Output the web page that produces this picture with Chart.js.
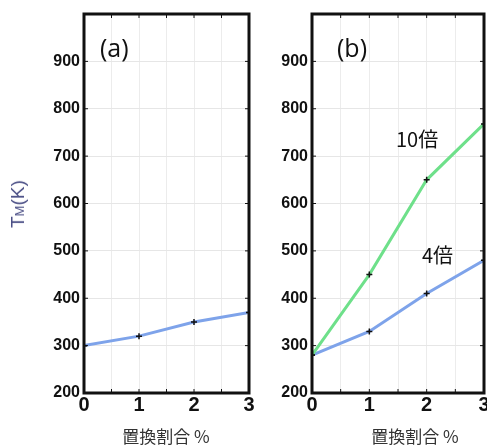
<!DOCTYPE html>
<html>
<head>
<meta charset="utf-8">
<script src="https://cdn.jsdelivr.net/npm/chart.js@4.4.1/dist/chart.umd.min.js"></script>
<style>
  html, body { margin: 0; padding: 0; background: #fff; overflow: hidden; width: 487px; height: 445px; }
  .box { position: absolute; top: 0; height: 445px; }
  .lbl { position: absolute; font-family: "Open Sans", "Liberation Sans", sans-serif; color: #111; white-space: nowrap; }
  .xt { position: absolute; top: 423px; font-family: "Noto Sans CJK JP", sans-serif; font-size: 17px; color: #333; transform: translateX(-50%); white-space: nowrap; }
  .yt { position: absolute; left: 18px; top: 204px; transform: translate(-50%, -50%) rotate(-90deg); font-family: "Liberation Sans", sans-serif; font-size: 19px; color: #4b4f86; white-space: nowrap; }
  .yt small { font-size: 13px; }
</style>
</head>
<body>
<div class="box" style="left:0;width:258px"><canvas id="chartA" width="258" height="445"></canvas></div>
<div class="box" style="left:258px;width:240px"><canvas id="chartB" width="240" height="445"></canvas></div>

<div class="yt">T<small>M</small>(K)</div>
<div class="lbl" style="left:100px;top:30px;font-size:25px">(a)</div>
<div class="lbl" style="left:337px;top:30px;font-size:25px">(b)</div>
<div class="lbl" style="left:396px;top:124px;font-size:20px;font-family:'Noto Sans CJK JP',sans-serif">10倍</div>
<div class="lbl" style="left:422px;top:240px;font-size:20px;font-family:'Noto Sans CJK JP',sans-serif">4倍</div>
<div class="xt" style="left:166px">置換割合 %</div>
<div class="xt" style="left:415px">置換割合 %</div>

<script>
// données
const ratio = [0, 1, 2, 3];            // 置換割合 %
const tmA = [300, 320, 350, 370];      // (a)
const tm10x = [280, 450, 650, 768];    // (b) 10倍
const tm4x = [280, 330, 410, 480];     // (b) 4倍
const yTicks = [200, 300, 400, 500, 600, 700, 800, 900];

const BLUE = '#7ea3ea';
const GREEN = '#6ee08a';

// cadre noir + petites graduations intérieures
const framePlugin = {
    id: 'frame',
    afterDraw(chart) {
        const { ctx, chartArea: a, scales } = chart;
        ctx.save();
        ctx.strokeStyle = '#111';
        ctx.lineWidth = 1;
        ctx.beginPath();
        scales.x.ticks.forEach(t => {
            const px = scales.x.getPixelForValue(t.value);
            ctx.moveTo(px, a.top); ctx.lineTo(px, a.top + 4);
            ctx.moveTo(px, a.bottom); ctx.lineTo(px, a.bottom - 4);
        });
        scales.y.ticks.forEach(t => {
            const py = scales.y.getPixelForValue(t.value);
            ctx.moveTo(a.left, py); ctx.lineTo(a.left + 4, py);
            ctx.moveTo(a.right, py); ctx.lineTo(a.right - 4, py);
        });
        ctx.stroke();
        ctx.lineWidth = 3;
        ctx.strokeRect(a.left, a.top, a.right - a.left, a.bottom - a.top);
        ctx.restore();
    }
};

function series(values, color) {
    return {
        data: ratio.map((x, i) => ({ x: x, y: values[i] })),
        borderColor: color,
        borderWidth: 3,
        pointStyle: 'cross',
        pointRadius: 3,
        pointBorderColor: '#111',
        pointBorderWidth: 1.5,
        tension: 0
    };
}

function makeOptions(yWidth, padRight) {
    return {
        responsive: false,
        animation: false,
        layout: { padding: { top: 14, right: padRight, left: 0, bottom: 0 } },
        plugins: { legend: { display: false }, tooltip: { enabled: false } },
        scales: {
            x: {
                type: 'linear', min: 0, max: 3,
                ticks: {
                    stepSize: 0.5,
                    padding: 0,
                    color: '#111',
                    font: { family: 'Liberation Sans', size: 20, weight: 'bold' },
                    callback: v => Number.isInteger(v) ? v : ''
                },
                grid: { color: '#ececec', drawTicks: false },
                border: { display: false },
                afterFit: s => { s.height = 52; }
            },
            y: {
                min: 200, max: 1000,
                afterBuildTicks: s => { s.ticks = yTicks.concat([1000]).map(v => ({ value: v })); },
                ticks: {
                    padding: 4,
                    color: '#111',
                    font: { family: 'Liberation Sans', size: 16, weight: 'bold' },
                    callback: v => v === 1000 ? '' : v
                },
                grid: { color: '#e6e6e6', drawTicks: false },
                border: { display: false },
                afterFit: s => { s.width = yWidth; }
            }
        }
    };
}

new Chart(document.getElementById('chartA').getContext('2d'), {
    type: 'line',
    data: { datasets: [series(tmA, BLUE)] },
    options: makeOptions(84, 9),
    plugins: [framePlugin]
});

new Chart(document.getElementById('chartB').getContext('2d'), {
    type: 'line',
    data: { datasets: [series(tm10x, GREEN), series(tm4x, BLUE)] },
    options: makeOptions(54, 14),
    plugins: [framePlugin]
});
</script>
</body>
</html>
